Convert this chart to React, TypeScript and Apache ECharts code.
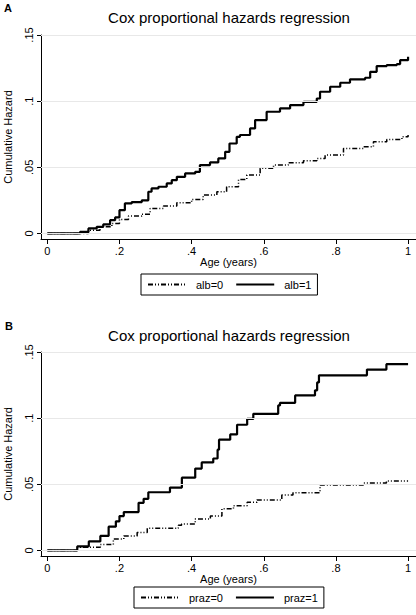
import React, { useEffect, useRef } from "react";
import * as echarts from "echarts";

// Panel A: albendazole
const albTime1 = [0, 0.091, 0.114, 0.137, 0.155, 0.174, 0.188, 0.2, 0.215, 0.234, 0.262, 0.28, 0.289, 0.308, 0.331, 0.345, 0.359, 0.382, 0.41, 0.423, 0.451, 0.474, 0.493, 0.505, 0.525, 0.534, 0.562, 0.576, 0.608, 0.645, 0.673, 0.71, 0.747, 0.756, 0.784, 0.812, 0.839, 0.881, 0.895, 0.913, 0.941, 0.969, 0.978, 1.0];
const albHazard1 = [0, 0.0012, 0.0038, 0.005, 0.0068, 0.01, 0.0121, 0.0176, 0.0227, 0.0237, 0.025, 0.0315, 0.034, 0.0353, 0.0378, 0.0403, 0.0428, 0.0454, 0.0466, 0.0517, 0.0537, 0.0567, 0.0617, 0.068, 0.073, 0.0744, 0.0794, 0.0857, 0.092, 0.0945, 0.097, 0.0995, 0.102, 0.1071, 0.1109, 0.1139, 0.1165, 0.1177, 0.1222, 0.1265, 0.1273, 0.128, 0.131, 0.1336];
const albTime0 = [0, 0.114, 0.146, 0.179, 0.2, 0.225, 0.262, 0.285, 0.322, 0.359, 0.4, 0.432, 0.47, 0.497, 0.53, 0.553, 0.59, 0.627, 0.668, 0.71, 0.747, 0.77, 0.821, 0.876, 0.904, 0.941, 0.983, 1.0];
const albHazard0 = [0, 0.0025, 0.005, 0.0076, 0.0106, 0.0131, 0.0146, 0.0189, 0.0207, 0.0232, 0.0257, 0.029, 0.0315, 0.0353, 0.0408, 0.0441, 0.0492, 0.0517, 0.0534, 0.0549, 0.0567, 0.0592, 0.0643, 0.0655, 0.0693, 0.0711, 0.0731, 0.0744];

// Panel B: praziquantel
const prazTime1 = [0, 0.083, 0.115, 0.147, 0.17, 0.19, 0.2, 0.212, 0.253, 0.267, 0.28, 0.34, 0.373, 0.41, 0.428, 0.46, 0.472, 0.476, 0.507, 0.526, 0.554, 0.571, 0.64, 0.645, 0.687, 0.742, 0.748, 0.753, 0.886, 0.94, 1.0];
const prazHazard1 = [0, 0.003, 0.0068, 0.011, 0.018, 0.022, 0.026, 0.029, 0.036, 0.039, 0.044, 0.0475, 0.055, 0.0619, 0.0665, 0.0695, 0.0762, 0.0837, 0.0877, 0.095, 0.0994, 0.1033, 0.1096, 0.1116, 0.1172, 0.121, 0.127, 0.1324, 0.1367, 0.1408, 0.1408];
const prazTime0 = [0, 0.083, 0.147, 0.183, 0.212, 0.249, 0.277, 0.363, 0.372, 0.41, 0.452, 0.484, 0.516, 0.554, 0.581, 0.65, 0.681, 0.756, 0.876, 0.94, 1.0];
const prazHazard0 = [0, 0.0025, 0.0045, 0.0087, 0.011, 0.0135, 0.0167, 0.019, 0.02, 0.0237, 0.026, 0.0315, 0.0338, 0.0365, 0.0382, 0.042, 0.0437, 0.0495, 0.051, 0.0525, 0.053];

const xTicks = [0, 0.2, 0.4, 0.6, 0.8, 1];
const yTicks = [0, 0.05, 0.1, 0.15];
const panelLetters = ["A", "B"];
const titleText = "Cox proportional hazards regression";
const legendA = ["alb=0", "alb=1"];
const legendB = ["praz=0", "praz=1"];

const FONT = "'Liberation Sans', Arial, Helvetica, sans-serif";

const zip = (xs: number[], ys: number[]) => xs.map((x, i) => [x, ys[i]]);
const fmt = (v: number) => (v === 0 ? "0" : String(+v.toFixed(3)).replace(/^0\./, "."));

export default function App() {
  const ref = useRef<HTMLDivElement>(null);
  useEffect(() => {
    if (!ref.current) return;
    const chart = echarts.init(ref.current, null, { renderer: "svg" });
    const grids = [
      { left: 41, top: 35, width: 375, height: 204, outerBoundsMode: "none", containLabel: false },
      { left: 41, top: 352, width: 375, height: 204, outerBoundsMode: "none", containLabel: false },
    ];
    const xAxis = grids.map((_, i) => ({
      type: "value",
      gridIndex: i,
      min: -0.0175,
      max: 1.022,
      axisLine: { show: true, onZero: false, lineStyle: { color: "#000", width: 1 } },
      axisTick: { show: true, customValues: xTicks, length: 5, lineStyle: { color: "#000" } },
      axisLabel: { customValues: xTicks, formatter: fmt, color: "#000", fontSize: 11, fontFamily: FONT, margin: 6 },
      splitLine: { show: false },
      name: "Age (years)",
      nameLocation: "middle",
      nameGap: 16,
      nameTextStyle: { color: "#000", fontSize: 11, fontFamily: FONT },
    }));
    const yAxis = grids.map((_, i) => ({
      type: "value",
      gridIndex: i,
      min: -0.0042,
      max: 0.15,
      axisLine: { show: true, onZero: false, lineStyle: { color: "#000", width: 1 } },
      axisTick: { show: true, customValues: yTicks, length: 4, lineStyle: { color: "#000" } },
      axisLabel: { customValues: yTicks, formatter: fmt, rotate: 90, color: "#000", fontSize: 11, fontFamily: FONT, margin: 7 },
      splitLine: { show: false },
      name: "Cumulative Hazard",
      nameLocation: "middle",
      nameGap: 28,
      nameTextStyle: { color: "#000", fontSize: 11, fontFamily: FONT },
    }));
    const gridMark = {
      silent: true,
      symbol: ["none", "none"],
      label: { show: false },
      lineStyle: { color: "#e8e8e8", type: "solid", width: 1 },
      data: yTicks.map((v) => ({ yAxis: v })),
    };
    const dashStyle = { color: "#000", width: 1.5, type: [5, 2, 1, 2, 1, 2] };
    const solidStyle = { color: "#000", width: 2.2, type: "solid" };
    const mk = (name: string, data: number[][], idx: number, dash: boolean) => ({
      type: "line",
      name,
      xAxisIndex: idx,
      yAxisIndex: idx,
      data,
      step: "end",
      showSymbol: false,
      symbol: "none",
      clip: false,
      z: dash ? 2 : 3,
      lineStyle: dash ? dashStyle : solidStyle,
      itemStyle: { color: "#000" },
      markLine: dash ? gridMark : undefined,
    });
    const series = [
      mk(legendA[0], zip(albTime0, albHazard0), 0, true),
      mk(legendA[1], zip(albTime1, albHazard1), 0, false),
      mk(legendB[0], zip(prazTime0, prazHazard0), 1, true),
      mk(legendB[1], zip(prazTime1, prazHazard1), 1, false),
    ];
    const legendCommon = {
      orient: "horizontal",
      itemWidth: 38,
      itemHeight: 10,
      itemGap: 12,
      padding: [5, 6],
      borderColor: "#000",
      borderWidth: 1,
      selectedMode: false,
      itemStyle: { color: "rgba(0,0,0,0)", borderWidth: 0, opacity: 0 },
      textStyle: { color: "#000", fontSize: 11, fontFamily: FONT, padding: [0, 0, 0, 5] },
    };
    const legend = [
      { ...legendCommon, data: legendA, left: 141, top: 274 },
      { ...legendCommon, data: legendB, left: 134, top: 587 },
    ];
    const graphic = [
      { type: "text", x: 4, y: 8, style: { text: panelLetters[0], font: `bold 11px ${FONT}`, fill: "#000", textVerticalAlign: "middle", verticalAlign: "middle" } },
      { type: "text", x: 5, y: 326, style: { text: panelLetters[1], font: `bold 11px ${FONT}`, fill: "#000", textVerticalAlign: "middle", verticalAlign: "middle" } },
      { type: "text", x: 229, y: 17.5, style: { text: titleText, font: `15px ${FONT}`, fill: "#000", textAlign: "center", align: "center", textVerticalAlign: "middle", verticalAlign: "middle" } },
      { type: "text", x: 229, y: 335, style: { text: titleText, font: `15px ${FONT}`, fill: "#000", textAlign: "center", align: "center", textVerticalAlign: "middle", verticalAlign: "middle" } },
    ];
    chart.setOption({
      animation: false,
      backgroundColor: "#fff",
      grid: grids,
      xAxis,
      yAxis,
      series,
      legend,
      graphic,
    } as any);
    return () => chart.dispose();
  }, []);
  return <div ref={ref} style={{ position: "absolute", left: 0, top: 0, width: 416, height: 615 }} />;
}
